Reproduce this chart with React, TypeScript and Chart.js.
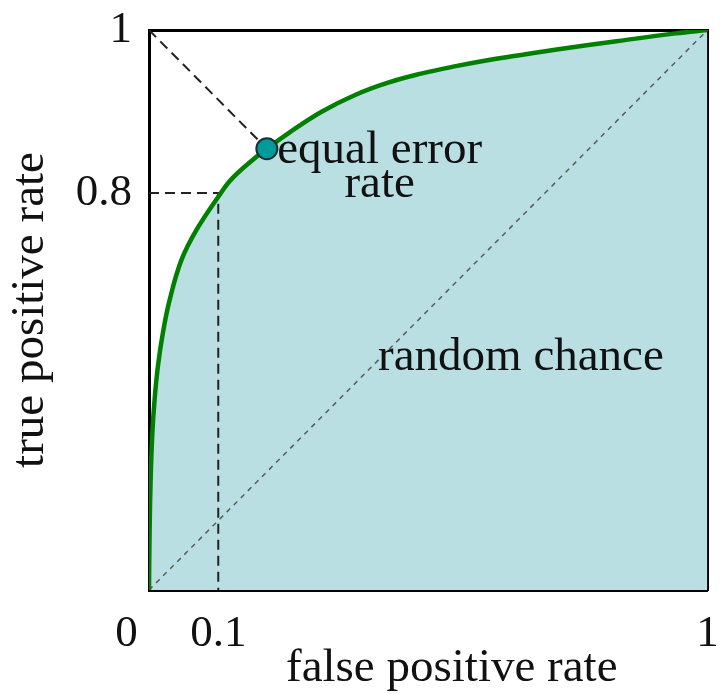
import React, { useEffect, useRef } from "react";
import { Chart, registerables } from "chart.js";

Chart.register(...registerables);

// ROC curve (false positive rate vs true positive rate), as drawn in the figure
const fprValues = [0, 0.001, 0.003, 0.006, 0.01, 0.016, 0.025, 0.037, 0.058, 0.085, 0.126, 0.149, 0.194, 0.211, 0.25, 0.309, 0.369, 0.428, 0.487, 0.547, 0.606, 0.677, 0.73, 0.837, 0.943, 1];
const tprValues = [0, 0.1, 0.2, 0.28, 0.34, 0.4, 0.46, 0.518, 0.589, 0.643, 0.705, 0.735, 0.775, 0.788, 0.816, 0.854, 0.884, 0.906, 0.922, 0.935, 0.946, 0.957, 0.965, 0.98, 0.994, 1];

// random chance diagonal
const chanceFpr = [0, 1];
const chanceTpr = [0, 1];

// line from the top-left corner to the equal error rate point
const eerLineFpr = [0, 0.211];
const eerLineTpr = [1, 0.788];

// equal error rate point
const eerFpr = [0.211];
const eerTpr = [0.788];

// operating point guides (fpr 0.1, tpr 0.8)
const operatingFpr = [0, 0.124, 0.124];
const operatingTpr = [0.709, 0.709, 0];

// tick labels
const xTickValues = [0, 0.124, 1];
const xTickLabels = ["0", "0.1", "1"];
const yTickValues = [0.709, 1];
const yTickLabels = ["0.8", "1"];

// annotations
const annotationTexts = ["equal error", "rate", "random chance"];
const annotationFpr = [0.413, 0.413, 0.666];
const annotationTpr = [0.7625, 0.702, 0.393];

const xTitle = "false positive rate";
const yTitle = "true positive rate";

const SERIF = '"Liberation Serif", "Times New Roman", "DejaVu Serif", serif';
const NBSP = "\u00a0";

const pts = (xs: number[], ys: number[]) => xs.map((x, i) => ({ x, y: ys[i] }));

const labelFor = (values: number[], labels: string[], v: number) => {
  const i = values.findIndex((t) => Math.abs(t - v) < 1e-6);
  return i >= 0 ? labels[i] : "";
};

const annotationPlugin = {
  id: "rocAnnotations",
  afterDatasetsDraw(chart: any) {
    const { ctx, scales } = chart;
    const xs = scales.x;
    const ys = scales.y;
    ctx.save();
    ctx.font = `47px ${SERIF}`;
    ctx.fillStyle = "#111";
    ctx.textAlign = "center";
    ctx.textBaseline = "alphabetic";
    annotationTexts.forEach((t, i) => {
      ctx.fillText(t, xs.getPixelForValue(annotationFpr[i]), ys.getPixelForValue(annotationTpr[i]));
    });
    ctx.restore();
  },
};

export default function App() {
  const canvasRef = useRef<HTMLCanvasElement | null>(null);

  useEffect(() => {
    if (!canvasRef.current) return;
    const dashed = {
      pointRadius: 0,
      fill: false,
      tension: 0,
    };
    const chart = new Chart(canvasRef.current, {
      type: "line",
      data: {
        datasets: [
          {
            label: "area",
            data: pts(fprValues, tprValues),
            borderWidth: 0,
            borderColor: "rgba(0,0,0,0)",
            backgroundColor: "#badfe3",
            fill: "origin",
            pointRadius: 0,
            tension: 0.4,
            order: 5,
          },
          {
            label: "random chance",
            data: pts(chanceFpr, chanceTpr),
            borderColor: "#5a5a5a",
            borderWidth: 1.5,
            borderDash: [5, 5],
            ...dashed,
            order: 4,
          },
          {
            label: "operating point",
            data: pts(operatingFpr, operatingTpr),
            borderColor: "#222",
            borderWidth: 2,
            borderDash: [10, 6],
            ...dashed,
            order: 3,
          },
          {
            label: "eer line",
            data: pts(eerLineFpr, eerLineTpr),
            borderColor: "#222",
            borderWidth: 2,
            borderDash: [10, 6],
            ...dashed,
            order: 2,
          },
          {
            label: "ROC",
            data: pts(fprValues, tprValues),
            borderColor: "#008000",
            borderWidth: 4.5,
            fill: false,
            pointRadius: 0,
            tension: 0.4,
            order: 1,
          },
          {
            label: "equal error rate",
            data: pts(eerFpr, eerTpr),
            showLine: false,
            pointRadius: 10.5,
            pointBackgroundColor: "#009a9a",
            pointBorderColor: "#1a3030",
            pointBorderWidth: 2,
            order: 0,
          },
        ],
      },
      options: {
        animation: false,
        responsive: false,
        maintainAspectRatio: false,
        events: [],
        layout: { padding: { top: 30, right: 8, left: 0, bottom: 0 } },
        plugins: {
          legend: { display: false },
          tooltip: { enabled: false },
        },
        scales: {
          x: {
            type: "linear",
            position: "bottom",
            min: 0,
            max: 1,
            z: 1,
            grid: { display: false, drawTicks: false },
            border: { display: true, color: "#000", width: 3 },
            afterBuildTicks: (s: any) => {
              s.ticks = xTickValues.map((v) => ({ value: v }));
            },
            afterFit: (s: any) => {
              s.height = 104;
              s.paddingLeft = 0;
              s.paddingRight = 0;
            },
            ticks: {
              autoSkip: false,
              maxRotation: 0,
              padding: 17,
              color: "#111",
              font: { family: SERIF, size: 45 },
              callback: (v: any) => {
                const l = labelFor(xTickValues, xTickLabels, Number(v));
                return Number(v) === 0 ? l + NBSP.repeat(4) : l;
              },
            },
            title: {
              display: true,
              text: NBSP.repeat(4) + xTitle,
              color: "#111",
              font: { family: SERIF, size: 47 },
              padding: { top: 0, bottom: -3 },
            },
          },
          y: {
            type: "linear",
            position: "left",
            min: 0,
            max: 1,
            z: 1,
            grid: { display: false, drawTicks: false },
            border: { display: true, color: "#000", width: 3 },
            afterBuildTicks: (s: any) => {
              s.ticks = yTickValues.map((v) => ({ value: v }));
            },
            afterFit: (s: any) => {
              s.width = 149;
              s.paddingTop = 0;
              s.paddingBottom = 0;
            },
            ticks: {
              autoSkip: false,
              padding: 17,
              color: "#111",
              font: { family: SERIF, size: 45 },
              callback: (v: any) => labelFor(yTickValues, yTickLabels, Number(v)),
            },
            title: {
              display: true,
              text: yTitle,
              color: "#111",
              font: { family: SERIF, size: 47 },
              padding: { top: 2, bottom: 0 },
            },
          },
          x2: {
            type: "linear",
            axis: "x",
            position: "top",
            min: 0,
            max: 1,
            z: 1,
            grid: { display: false, drawTicks: false },
            border: { display: true, color: "#000", width: 3 },
            ticks: { display: false },
            afterFit: (s: any) => {
              s.height = 0;
              s.paddingLeft = 0;
              s.paddingRight = 0;
            },
          },
          y2: {
            type: "linear",
            axis: "y",
            position: "right",
            min: 0,
            max: 1,
            z: 1,
            grid: { display: false, drawTicks: false },
            border: { display: true, color: "#000", width: 3 },
            ticks: { display: false },
            afterFit: (s: any) => {
              s.width = 0;
              s.paddingTop = 0;
              s.paddingBottom = 0;
            },
          },
        },
      } as any,
      plugins: [annotationPlugin],
    });
    return () => chart.destroy();
  }, []);

  return (
    <div style={{ position: "absolute", left: 0, top: 0, width: 720, height: 694, background: "#fff" }}>
      <canvas ref={canvasRef} width={720} height={694} style={{ display: "block", width: 720, height: 694 }} />
    </div>
  );
}
